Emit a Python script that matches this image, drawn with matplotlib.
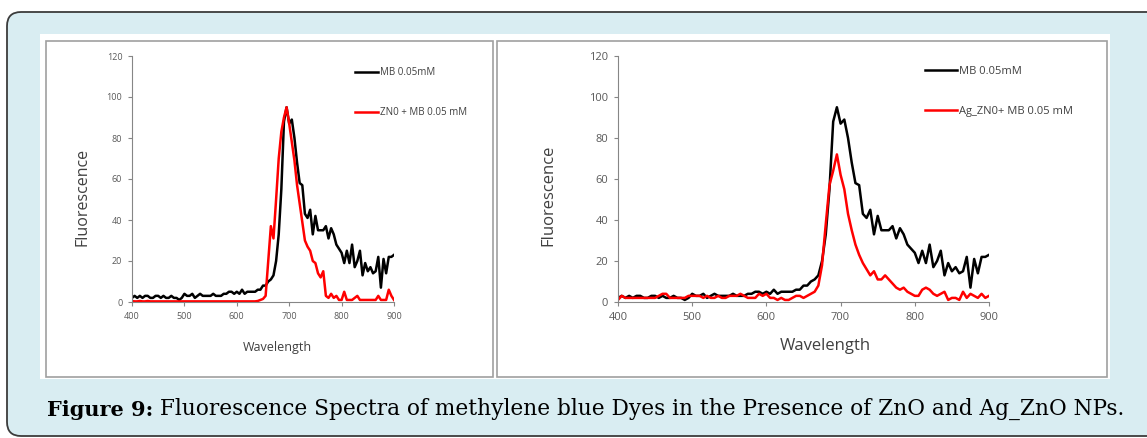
import matplotlib
matplotlib.use('Agg')
import matplotlib.pyplot as plt
from matplotlib.patches import FancyBboxPatch, Rectangle
from matplotlib.text import Annotation
from matplotlib.transforms import IdentityTransform

# wavelength grid, 5 nm steps
wavelength = list(range(400, 905, 5))

mb = [2, 3, 2, 3, 2, 3, 3, 2, 2, 3,
      3, 2, 3, 2, 2, 3, 2, 2, 1, 2,
      4, 3, 3, 4, 2, 3, 4, 3, 3, 3,
      3, 4, 3, 3, 3, 4, 4, 5, 5, 4,
      5, 4, 6, 4, 5, 5, 5, 5, 6, 6,
      8, 8, 10, 11, 13, 20, 33, 55, 88, 95,
      87, 89, 80, 68, 58, 57, 43, 41, 45, 33,
      42, 35, 35, 35, 37, 31, 36, 33, 28, 26,
      24, 19, 25, 19, 28, 17, 20, 25, 13, 19,
      15, 17, 14, 15, 22, 7, 21, 14, 22, 22,
      23]

zno_mb = [0.5, 0.3, 0.3, 0.5, 0.3, 0.3, 0.5, 0.3, 0.3, 0.3,
          0.3, 0.3, 0.3, 0.3, 0.3, 0.3, 0.3, 0.3, 0.3, 0.3,
          0.3, 0.3, 0.3, 0.3, 0.3, 0.3, 0.3, 0.3, 0.3, 0.3,
          0.3, 0.3, 0.3, 0.3, 0.3, 0.3, 0.3, 0.3, 0.3, 0.3,
          0.3, 0.3, 0.3, 0.3, 0.3, 0.3, 0.3, 0.3, 0.5, 1,
          1.5, 3, 20, 37, 31, 50, 70, 83, 90, 95,
          87, 78, 69, 57, 48, 39, 30, 27, 25, 20,
          19, 14, 12, 15, 3, 2, 4, 2, 3, 1,
          1, 5, 1, 1, 1, 2, 3, 1, 1, 1,
          1, 1, 1, 1, 3, 1, 1, 1, 6, 3,
          1]

agzno_mb = [1, 3, 2, 2, 2, 2, 2, 2, 2, 2,
            2, 3, 4, 4, 2, 2, 2, 2, 2, 3,
            3, 3, 3, 2, 3, 2, 2, 3, 2, 2,
            3, 3, 3, 4, 3, 2, 2, 2, 4, 3,
            4, 2, 2, 1, 2, 1, 1, 2, 3, 3,
            2, 3, 4, 5, 8, 18, 38, 57, 64, 72,
            62, 55, 43, 35, 28, 23, 19, 16, 13, 15,
            11, 11, 13, 11, 9, 7, 6, 7, 5, 4,
            3, 3, 6, 7, 6, 4, 3, 4, 5, 1,
            2, 2, 1, 5, 2, 4, 3, 2, 4, 2,
            3]

xticks = [400, 500, 600, 700, 800, 900]
yticks = [0, 20, 40, 60, 80, 100, 120]

W, H = 1147, 438


def px(x0, y0, x1, y1):
    # pixel box (top-left origin) -> figure fraction [left, bottom, width, height]
    return [x0 / W, 1 - y1 / H, (x1 - x0) / W, (y1 - y0) / H]


def style_axes(ax, tick_size):
    for s in ['top', 'right']:
        ax.spines[s].set_visible(False)
    for s in ['left', 'bottom']:
        ax.spines[s].set_color('#868686')
        ax.spines[s].set_linewidth(0.8)
    ax.set_xlim(400, 900)
    ax.set_ylim(0, 120)
    ax.set_xticks(xticks)
    ax.set_yticks(yticks)
    ax.tick_params(direction='out', length=3, width=0.8, color='#868686',
                   labelsize=tick_size, labelcolor='#595959', pad=4)
    ax.set_facecolor('none')


def make_graph():
    plt.rcParams['font.family'] = ['Open Sans', 'DejaVu Sans']
    fig = plt.figure(figsize=(W / 100, H / 100), dpi=100)

    ident = IdentityTransform()
    # outer rounded light-blue frame and white panels, behind everything
    boxes = [
        FancyBboxPatch((7, 2), 1170, 424, boxstyle='round,pad=0,rounding_size=14',
                       facecolor='#d9edf2', edgecolor='#3c3c3c', linewidth=1.3),
        Rectangle((40, H - 379), 1070, 345, facecolor='white', edgecolor='none'),
        Rectangle((46, H - 377), 447, 336, facecolor='white', edgecolor='#a0a0a0', linewidth=1.2),
        Rectangle((497, H - 377), 610, 336, facecolor='white', edgecolor='#a0a0a0', linewidth=1.2),
    ]
    for b in boxes:
        b.set_transform(ident)
        b.set_figure(fig)
        b.set_zorder(-10)
        fig.patches.append(b)

    # left panel: MB vs ZnO + MB
    ax1 = fig.add_axes(px(132, 56, 394, 302))
    ax1.plot(wavelength, mb, color='black', lw=1.8, label='MB 0.05mM')
    ax1.plot(wavelength, zno_mb, color='#ff0000', lw=1.8, label='ZN0 + MB 0.05 mM')
    style_axes(ax1, 6.5)
    fig.text(277 / W, 1 - 347 / H, 'Wavelength', fontsize=9, color='#404040',
             ha='center', va='center')
    fig.text(82 / W, 1 - 197 / H, 'Fluorescence', fontsize=11.5, color='#404040',
             ha='center', va='center', rotation=90)
    ax1.legend(loc='upper left', bbox_to_anchor=(355 / W, 1 - 67 / H),
               bbox_transform=fig.transFigure, frameon=False, fontsize=7,
               handlelength=2.4, handletextpad=0.15, labelspacing=3.0, borderpad=0,
               borderaxespad=0, labelcolor='#404040')

    # right panel: MB vs Ag_ZnO + MB
    ax2 = fig.add_axes(px(618, 56, 989, 302))
    ax2.plot(wavelength, mb, color='black', lw=1.8, label='MB 0.05mM')
    ax2.plot(wavelength, agzno_mb, color='#ff0000', lw=1.8, label='Ag_ZN0+ MB 0.05 mM')
    style_axes(ax2, 8)
    fig.text(825 / W, 1 - 346 / H, 'Wavelength', fontsize=12, color='#404040',
             ha='center', va='center')
    fig.text(548 / W, 1 - 195 / H, 'Fluorescence', fontsize=12, color='#404040',
             ha='center', va='center', rotation=90)
    ax2.legend(loc='upper left', bbox_to_anchor=(925 / W, 1 - 66 / H),
               bbox_transform=fig.transFigure, frameon=False, fontsize=8,
               handlelength=2.9, handletextpad=0.15, labelspacing=2.6, borderpad=0,
               borderaxespad=0, labelcolor='#404040')

    # caption: bold label followed by plain text
    t1 = fig.text(47 / W, 1 - 420 / H, 'Figure 9:', fontsize=15, fontweight='bold',
                  family='DejaVu Serif', color='black', va='bottom')
    cap = Annotation(' Fluorescence Spectra of methylene blue Dyes in the Presence of ZnO and Ag_ZnO NPs.',
                     xy=(1, 0), xycoords=t1, va='bottom', ha='left', fontsize=15.6,
                     family='DejaVu Serif', color='black')
    fig.add_artist(cap)

    fig.savefig('out.png', dpi=100)


if __name__ == '__main__':
    make_graph()
